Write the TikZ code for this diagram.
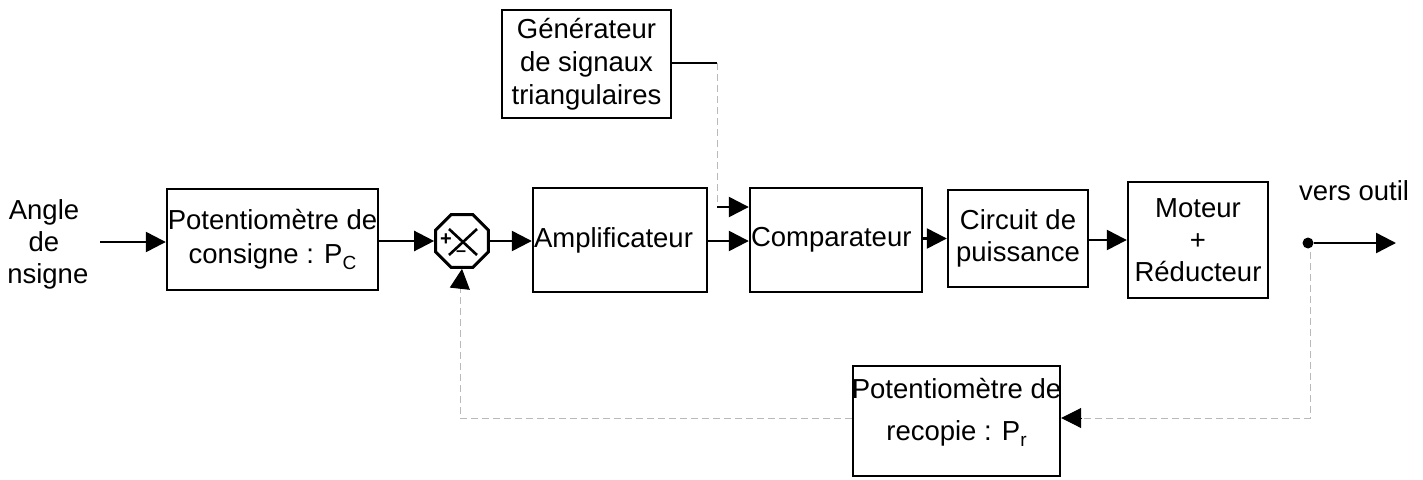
\documentclass[tikz,border=0pt]{standalone}
\usepackage{fontspec}
\setmainfont{Liberation Sans}
\usetikzlibrary{arrows.meta,shapes.geometric}
\newcommand\sbs[1]{\raisebox{-0.4ex}{\fontsize{19}{19}\selectfont #1}}
\begin{document}
\begin{tikzpicture}[x=1pt,y=-1pt,
 box/.style={draw,line width=2.4pt,inner sep=0pt,align=center,font=\fontsize{27.5}{32}\selectfont},
 lbox/.style={draw,line width=2.4pt,inner sep=1pt,align=left,font=\fontsize{27.5}{32}\selectfont},
 arr/.style={line width=2.4pt,-{Triangle[length=20pt,width=20pt]}},
 plain/.style={line width=2.4pt},
 fb/.style={gray!55,line width=1pt,dash pattern=on 7pt off 4pt},
 txt/.style={align=center,font=\fontsize{27.5}{32}\selectfont,inner sep=0pt}]
\useasboundingbox (0,0) rectangle (1423,479);
\fill[white] (0,0) rectangle (1423,479);

% nodes
\node[txt] (in) at (44,244) {Angle\\de\\\ nsigne};
\coordinate (inA) at (100,242);
\node[box,minimum width=211pt,minimum height=101pt] (pc) at (272.5,239.5) {Potentiomètre de\\[2pt]consigne : P\sbs{C}};
\node[draw,line width=3pt,regular polygon,regular polygon sides=8,minimum size=57pt,inner sep=0pt] (sum) at (462,241) {};
\node[lbox,text width=172pt,minimum height=104pt] (amp) at (620,240) {Amplificateur};
\node[lbox,text width=170pt,minimum height=104pt] (comp) at (836,240) {Comparateur};
\node[box,minimum width=169pt,minimum height=108pt,font=\fontsize{27.5}{33}\selectfont] (gen) at (586.5,64) {Générateur\\de signaux\\triangulaires};
\node[box,minimum width=140pt,minimum height=97pt] (circ) at (1018,238.5) {Circuit de\\puissance};
\node[box,minimum width=140pt,minimum height=116pt] (mot) at (1198,240) {Moteur\\+\\Réducteur};
\node[box,minimum width=207pt,minimum height=110pt] (pr) at (956.5,421) {};
\node[txt] (prt) at (956.5,412) {Potentiomètre de\\[10pt]recopie : P\sbs{r}};
\node[circle,fill,inner sep=0pt,minimum size=11pt] (dot) at (1308,243) {};
\coordinate (out) at (1396,243);
\node[txt] (vo) at (1354,191) {vers outil};

% sum symbol inside
\draw[line width=2.6pt] (449,229) -- (477,255) (477,229) -- (449,255);
\node[font=\bfseries\fontsize{20}{20}\selectfont,inner sep=0pt] (plus) at (446,240) {+};
\node[font=\bfseries\fontsize{18}{18}\selectfont,inner sep=0pt] (minus) at (461,254) {–};

% main chain
\draw[arr] (inA) -- (pc.west|-inA);
\draw[arr] (pc.east|-sum.west) -- (sum.west);
\draw[arr] (sum.east) -- (amp.west|-sum.east);
\draw[arr] (amp.east|-sum) -- (comp.west|-sum);
\draw[arr] (comp.east|-circ) -- (circ.west);
\draw[arr] (circ.east|-mot) -- (mot.west);
\draw[arr] (dot) -- (out);

% generator
\coordinate (g1) at (717,63);
\coordinate (g2) at (717,207);
\draw[plain] (gen.east|-g1) -- (g1);
\draw[fb] (g1) -- (g2);
\draw[arr] (g2) -- (comp.west|-g2);

% feedback
\coordinate (f1) at (1310,252);
\coordinate (f2) at (1310,418);
\coordinate (f3) at (1082,418);
\coordinate (f4) at (460,418);
\coordinate (f5) at (460,287);
\draw[fb] (f1) -- (f2) -- (f3);
\draw[arr,line width=1pt] (f3) -- (pr.east|-f3);
\draw[fb] (pr.west|-f4) -- (f4) -- (f5);
\draw[arr,line width=1pt] (f5) -- (sum.south);
\end{tikzpicture}
\end{document}
